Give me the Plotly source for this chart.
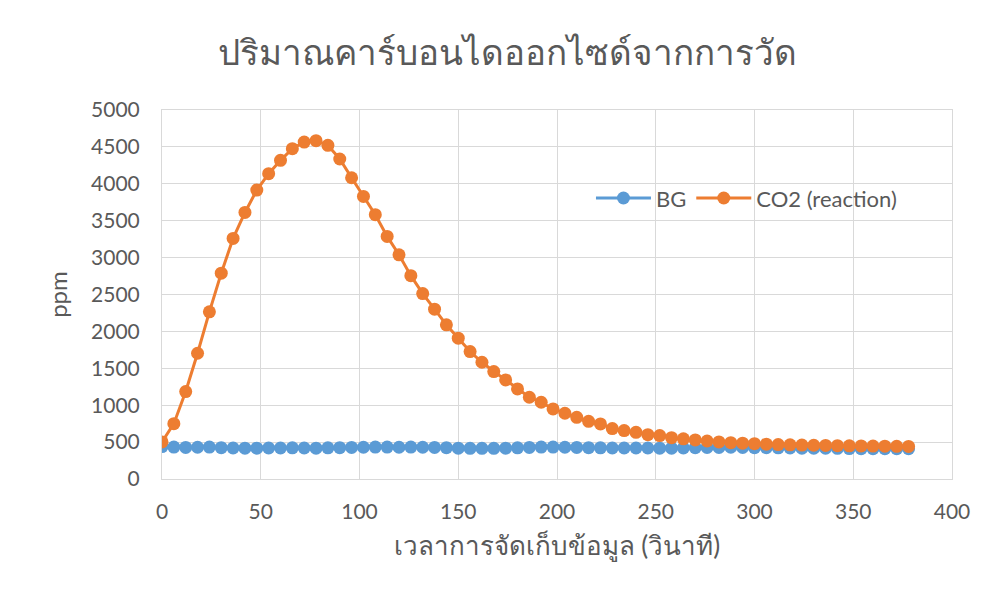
import plotly.graph_objects as go

time_s = [0, 6, 12, 18, 24, 30, 36, 42, 48, 54, 60, 66, 72, 78, 84, 90,
          96, 102, 108, 114, 120, 126, 132, 138, 144, 150, 156, 162, 168, 174, 180, 186,
          192, 198, 204, 210, 216, 222, 228, 234, 240, 246, 252, 258, 264, 270, 276, 282,
          288, 294, 300, 306, 312, 318, 324, 330, 336, 342, 348, 354, 360, 366, 372, 378]

bg_ppm = [440, 432, 428, 430, 432, 425, 420, 418, 418, 420, 420, 422, 420, 418, 422, 425,
          428, 430, 432, 432, 430, 432, 430, 428, 425, 418, 415, 415, 415, 418, 422, 428,
          432, 432, 430, 428, 425, 422, 420, 420, 420, 420, 418, 418, 420, 425, 428, 428,
          430, 428, 425, 425, 422, 420, 418, 418, 418, 415, 412, 410, 410, 410, 410, 410]

co2_ppm = [502, 750, 1185, 1704, 2265, 2789, 3260, 3612, 3915, 4137, 4318, 4476, 4566, 4584, 4521, 4336,
           4082, 3829, 3581, 3287, 3038, 2755, 2513, 2301, 2089, 1908, 1727, 1582, 1456, 1343, 1221, 1108,
           1040, 949, 891, 836, 782, 746, 683, 656, 633, 601, 588, 560, 545, 530, 515, 502,
           492, 485, 478, 472, 467, 463, 460, 457, 455, 452, 450, 448, 446, 445, 443, 442]

title_text = "ปริมาณคาร์บอนไดออกไซด์จากการวัด"
x_title = "เวลาการจัดเก็บข้อมูล (วินาที)"
y_title = "ppm"

BLUE = "#5b9bd5"
ORANGE = "#ed7d31"
TXT = "#595959"
GRID = "#d9d9d9"
FONT = "Lato, 'Noto Sans', sans-serif"

fig = go.Figure()
fig.add_trace(go.Scatter(x=time_s, y=bg_ppm, name="BG", mode="lines+markers",
                         line=dict(color=BLUE, width=3),
                         marker=dict(color=BLUE, size=13)))
fig.add_trace(go.Scatter(x=time_s, y=co2_ppm, name="CO2 (reaction)", mode="lines+markers",
                         line=dict(color=ORANGE, width=3),
                         marker=dict(color=ORANGE, size=13)))

fig.update_layout(
    width=990, height=598,
    paper_bgcolor="white", plot_bgcolor="white",
    margin=dict(l=154, r=46, t=102, b=127),
    font=dict(family=FONT, color=TXT, size=20),
    title=dict(text=title_text, x=0.505, xanchor="center", y=0.925, yanchor="middle",
               font=dict(size=35, color=TXT, family=FONT)),
    xaxis=dict(range=[0, 400], dtick=50, tick0=0, showgrid=True, gridcolor=GRID, gridwidth=1,
               zeroline=False, showline=True, linecolor=GRID, linewidth=1, mirror=True,
               ticks="", ticklabelstandoff=14, tickfont=dict(size=21, color=TXT),
               title=dict(text=x_title, font=dict(size=26, color=TXT), standoff=14)),
    yaxis=dict(range=[0, 5000], dtick=500, tick0=0, showgrid=True, gridcolor=GRID, gridwidth=1,
               zeroline=False, showline=True, linecolor=GRID, linewidth=1, mirror=True,
               ticks="", ticklabelstandoff=17, tickfont=dict(size=21, color=TXT),
               title=dict(text=y_title, font=dict(size=24, color=TXT), standoff=16)),
    legend=dict(orientation="h", x=0.543, y=0.761, xanchor="left", yanchor="middle",
                bgcolor="rgba(0,0,0,0)", font=dict(size=22, color=TXT),
                itemwidth=55, tracegroupgap=0),
    showlegend=True,
)

fig.write_html("out.html")
